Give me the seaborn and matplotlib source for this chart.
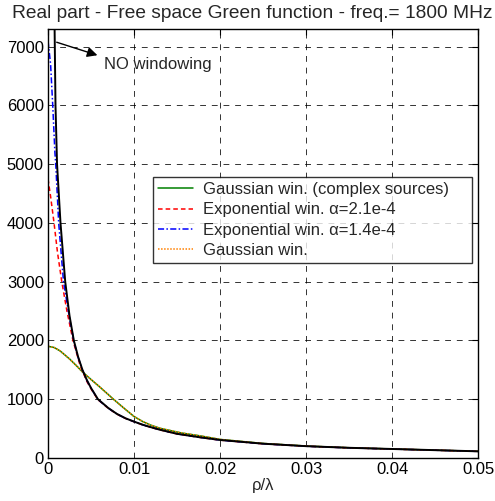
import matplotlib
matplotlib.use("Agg")
import matplotlib.pyplot as plt
import seaborn as sns

# ---- data ----
x_nowin = [0.00075, 0.00087, 0.00105, 0.00145, 0.002, 0.0025, 0.003, 0.0035, 0.004, 0.0045, 0.005,
           0.0058, 0.007, 0.008, 0.009, 0.01, 0.011, 0.0119, 0.013, 0.015, 0.0177, 0.02, 0.025,
           0.03, 0.035, 0.04, 0.045, 0.05]
y_nowin = [7500, 6000, 5000, 4000, 3000, 2420, 2000, 1720, 1500, 1330, 1190,
           1000, 850, 750, 675, 618, 565, 525, 480, 410, 350, 305, 242,
           200, 172, 152, 132, 112]

x_exp14 = [0.0, 0.0003, 0.00055, 0.0008, 0.0009, 0.00124, 0.0018, 0.0025, 0.003, 0.0035, 0.004,
           0.0045, 0.005, 0.0058, 0.007, 0.008, 0.009, 0.01, 0.011, 0.0119, 0.013, 0.015, 0.0177,
           0.02, 0.025, 0.03, 0.035, 0.04, 0.045, 0.05]
y_exp14 = [7100, 6700, 6000, 5200, 5000, 4000, 3000, 2380, 1990, 1712, 1493,
           1325, 1186, 997, 848, 748, 673, 617, 564, 524, 479, 409, 349,
           304, 241, 199, 171, 151, 131, 111]

x_exp21 = [0.0, 0.0003, 0.0007, 0.0011, 0.0016, 0.0022, 0.0029, 0.0037, 0.0045, 0.005,
           0.0058, 0.007, 0.008, 0.009, 0.01, 0.011, 0.0119, 0.013, 0.015, 0.0177,
           0.02, 0.025, 0.03, 0.035, 0.04, 0.045, 0.05]
y_exp21 = [4750, 4450, 4000, 3500, 3000, 2500, 2000, 1590, 1305, 1175,
           992, 845, 746, 672, 616, 563, 523, 478, 408, 348,
           303, 240, 199, 171, 151, 131, 111]

x_gauss = [0.0, 0.0007, 0.0014, 0.0025, 0.0033, 0.004, 0.005, 0.006, 0.0068, 0.0076, 0.0088, 0.01,
           0.011, 0.0119, 0.013, 0.0155, 0.0177, 0.02, 0.025, 0.03, 0.035, 0.04, 0.045, 0.05]
y_gauss = [1900, 1880, 1822, 1685, 1570, 1465, 1335, 1210, 1105, 1000, 850, 705,
           620, 560, 505, 425, 375, 315, 246, 202, 173, 152, 132, 112]

labels = ["Gaussian win. (complex sources)", "Exponential win. \u03b1=2.1e-4",
          "Exponential win. \u03b1=1.4e-4", "Gaussian win."]
title = "Real part - Free space Green function - freq.= 1800 MHz"
xticks = [0, 0.01, 0.02, 0.03, 0.04, 0.05]
xticklabels = ["0", "0.01", "0.02", "0.03", "0.04", "0.05"]
yticks = [0, 1000, 2000, 3000, 4000, 5000, 6000, 7000]

sns.set_style("white")
plt.rcParams["font.family"] = ["Liberation Sans", "DejaVu Sans"]

fig = plt.figure(figsize=(4.95, 5.01), dpi=100)
ax = fig.add_axes([0.097, 0.086, 0.869, 0.856])

sns.lineplot(x=x_gauss, y=y_gauss, ax=ax, color="#008000", lw=1.1, label=labels[0])
sns.lineplot(x=x_exp21, y=y_exp21, ax=ax, color="#ff0000", lw=1.1, linestyle=(0, (3, 2)), label=labels[1])
sns.lineplot(x=x_exp14, y=y_exp14, ax=ax, color="#0000ff", lw=1.1, linestyle=(0, (4, 1.5, 1, 1.5)), label=labels[2])
sns.lineplot(x=x_gauss, y=y_gauss, ax=ax, color="#ff8000", lw=1.1, linestyle=(0, (1, 1)), label=labels[3])
sns.lineplot(x=x_nowin, y=y_nowin, ax=ax, color="black", lw=1.4, label="_nolegend_")

ax.set_xlim(0, 0.05)
ax.set_ylim(0, 7300)
ax.set_xticks(xticks)
ax.set_xticklabels(xticklabels)
ax.set_yticks(yticks)
ax.tick_params(direction="in", length=4, labelsize=12, top=True, right=True, colors="black", pad=3)
for s in ax.spines.values():
    s.set_color("black")
    s.set_linewidth(1.0)
ax.grid(True, color="black", linestyle=(0, (6, 6)), linewidth=0.7, alpha=0.8)

ax.set_xlabel("\u03c1/\u03bb", fontsize=12, labelpad=1)
ax.set_ylabel("")
fig.text(252 / 495, 1 - 13 / 501, title, fontsize=13.8, ha="center", va="center")

ax.annotate("", xy=(0.00605, 6840), xytext=(0.0007, 7090),
            arrowprops=dict(arrowstyle="-|>", color="black", lw=1.0, mutation_scale=15))
ax.text(0.0065, 6700, "NO windowing", fontsize=12, va="center", ha="left")

leg = ax.legend(loc="upper left", bbox_to_anchor=(0.244, 0.45, 0.742, 0.205), mode="expand",
                borderaxespad=0, fontsize=12, frameon=True, fancybox=False, edgecolor="black",
                handlelength=2.1, handletextpad=0.6, labelspacing=0.32, borderpad=0.3)
leg.get_frame().set_linewidth(1.0)

fig.savefig("out.png", dpi=100)
